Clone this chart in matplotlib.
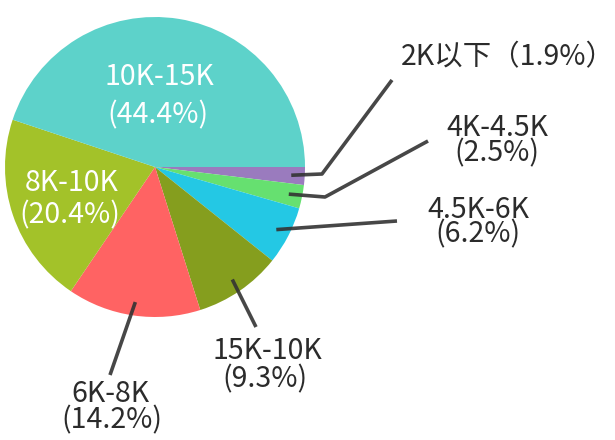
import numpy as np
import matplotlib
matplotlib.use("Agg")
import matplotlib.pyplot as plt

plt.rcParams['font.family'] = ['Noto Sans CJK SC', 'DejaVu Sans']

# data (clockwise from 3 o'clock)
names = ["2K以下", "4K-4.5K", "4.5K-6K", "15K-10K", "6K-8K", "8K-10K", "10K-15K"]
values = [1.9, 2.5, 6.2, 9.3, 14.2, 20.4, 44.4]
colors = ["#9A7BBE", "#66E070", "#24C8E4", "#859E1E", "#FF6363", "#A3C229", "#5DD2CA"]

W, H = 615, 440
fig = plt.figure(figsize=(W / 100, H / 100), dpi=100)
ax = fig.add_axes([0, 0, 1, 1])

cx, cy, R = 155, H - 167, 150
wedges, _ = ax.pie(values, colors=colors, startangle=0, counterclock=False,
                   center=(cx, cy), radius=R, wedgeprops=dict(linewidth=0),
                   frame=True)
ax.set_xlim(0, W)
ax.set_ylim(0, H)
ax.set_aspect('equal')
ax.axis('off')

TXT = '#2b2b2b'
FS = 20.5

# layout for outside labels: (elbow or None, line end, [(x, baseline_y) for lines])
layout = {
    0: ((322, 174), (392, 80), [(508, 65)]),
    1: ((325, 197), (428, 141), [(497, 136), (497, 161)]),
    2: (None, (397, 221), [(478, 218), (478, 242)]),
    3: (None, (256, 327), [(267, 359), (265, 387)]),
    4: (None, (110, 375), [(110, 402), (112, 428)]),
}
inside = {
    5: [(72, 191), (70, 223)],
    6: [(159, 85), (158, 123)],
}

for i, w in enumerate(wedges):
    ang = np.deg2rad((w.theta1 + w.theta2) / 2)
    pct = values[i]
    if i in layout:
        elbow, end, pos = layout[i]
        r = 0.91 * R
        sx, sy = cx + r * np.cos(ang), cy + r * np.sin(ang)
        xs, ys = [sx], [sy]
        if elbow is not None:
            xs.append(elbow[0]); ys.append(H - elbow[1])
        xs.append(end[0]); ys.append(H - end[1])
        ax.plot(xs, ys, color='#333333', lw=2.6, solid_capstyle='butt', alpha=0.9)
        if len(pos) == 1:
            ax.text(pos[0][0], H - pos[0][1], f"{names[i]}（{pct}%）", ha='center',
                    va='baseline', fontsize=FS, color=TXT)
        else:
            ax.text(pos[0][0], H - pos[0][1], names[i], ha='center', va='baseline',
                    fontsize=FS, color=TXT)
            ax.text(pos[1][0], H - pos[1][1], f"({pct}%)", ha='center', va='baseline',
                    fontsize=FS, color=TXT)
    else:
        pos = inside[i]
        ax.text(pos[0][0], H - pos[0][1], names[i], ha='center', va='baseline',
                fontsize=FS, color='white')
        ax.text(pos[1][0], H - pos[1][1], f"({pct}%)", ha='center', va='baseline',
                fontsize=FS, color='white')

fig.savefig("out.png", dpi=100)
